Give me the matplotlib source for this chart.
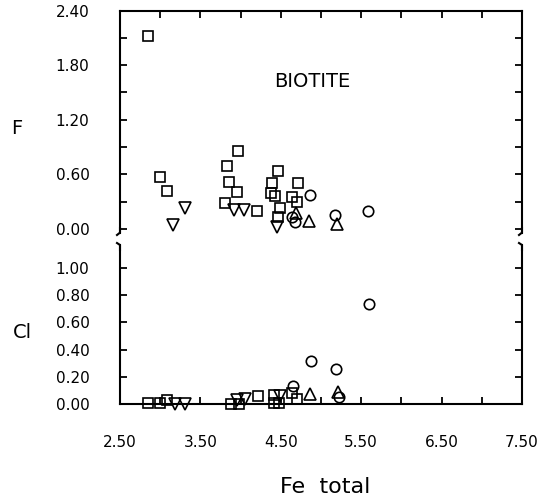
import matplotlib
matplotlib.use("Agg")
import matplotlib.pyplot as plt
from matplotlib.lines import Line2D
from matplotlib.ticker import MultipleLocator, FormatStrFormatter, NullFormatter

plt.rcParams['font.family'] = ['DejaVu Sans']

# F vs Fe total, one array pair per symbol
sq_fe_f = [2.85, 3.00, 3.09, 3.81, 3.83, 3.86, 3.95, 3.97, 4.21, 4.38, 4.43, 4.39,
           4.47, 4.49, 4.46, 4.64, 4.70, 4.71]
sq_f = [2.12, 0.575, 0.42, 0.28, 0.69, 0.52, 0.41, 0.86, 0.20, 0.39, 0.36, 0.51,
        0.64, 0.23, 0.135, 0.35, 0.30, 0.51]
tri_dn_fe_f = [3.155, 3.31, 3.92, 4.04, 4.45]
tri_dn_f = [0.045, 0.235, 0.21, 0.21, 0.025]
tri_up_fe_f = [4.69, 4.85, 5.20]
tri_up_f = [0.18, 0.09, 0.06]
circ_fe_f = [4.64, 4.68, 4.86, 5.17, 5.59]
circ_f = [0.13, 0.08, 0.37, 0.15, 0.20]

# Cl vs Fe total
sq_fe_cl = [2.85, 3.00, 3.08, 3.88, 3.98, 4.22, 4.41, 4.41, 4.48, 4.64, 4.70]
sq_cl = [0.01, 0.01, 0.03, 0.0, 0.0, 0.06, 0.066, 0.005, 0.005, 0.08, 0.04]
tri_dn_fe_cl = [3.18, 3.31, 3.95, 4.05, 4.49]
tri_dn_cl = [0.0, 0.0, 0.03, 0.035, 0.06]
tri_up_fe_cl = [4.86, 5.21]
tri_up_cl = [0.07, 0.09]
circ_fe_cl = [4.65, 4.88, 5.19, 5.22, 5.60]
circ_cl = [0.13, 0.32, 0.26, 0.05, 0.735]

W, H = 543, 500
fig = plt.figure(figsize=(W / 100, H / 100), dpi=100)

left = 120 / W
width = (522 - 120) / W
ax_f = fig.add_axes([left, 1 - 232.6 / H, width, 222 / H])
ax_cl = fig.add_axes([left, 1 - 404 / H, width, 159 / H])

mk = dict(linestyle='none', markerfacecolor='none', markeredgecolor='black',
          markeredgewidth=1.2, clip_on=False)


def draw_points(ax, sets):
    for xs, ys, m, s in sets:
        ax.plot(xs, ys, marker=m, markersize=s, **mk)


draw_points(ax_f, [(sq_fe_f, sq_f, 's', 6.5),
                   (tri_dn_fe_f, tri_dn_f, 'v', 8),
                   (tri_up_fe_f, tri_up_f, '^', 8),
                   (circ_fe_f, circ_f, 'o', 7.5)])
draw_points(ax_cl, [(sq_fe_cl, sq_cl, 's', 6.5),
                    (tri_dn_fe_cl, tri_dn_cl, 'v', 8),
                    (tri_up_fe_cl, tri_up_cl, '^', 8),
                    (circ_fe_cl, circ_cl, 'o', 7.5)])

for ax in (ax_f, ax_cl):
    ax.set_xlim(2.5, 7.5)
    for sp in ax.spines.values():
        sp.set_linewidth(1.5)
    ax.xaxis.set_major_locator(MultipleLocator(1.0, offset=0.5))
    ax.xaxis.set_minor_locator(MultipleLocator(0.5))
    ax.tick_params(which='both', direction='in', length=5, width=1.3,
                   labelsize=11, pad=22)

ax_f.spines['bottom'].set_visible(False)
ax_f.yaxis.set_major_locator(MultipleLocator(0.6))
ax_f.yaxis.set_minor_locator(MultipleLocator(0.3))
ax_f.yaxis.set_major_formatter(FormatStrFormatter('%.2f'))
ax_f.tick_params(which='both', bottom=False, labelbottom=False, top=True,
                 right=True)
ax_f.set_ylim(-0.04, 2.40)

ax_cl.spines['top'].set_visible(False)
ax_cl.yaxis.set_major_locator(MultipleLocator(0.2))
ax_cl.yaxis.set_major_formatter(FormatStrFormatter('%.2f'))
ax_cl.xaxis.set_major_formatter(FormatStrFormatter('%.2f'))
ax_cl.xaxis.set_minor_formatter(NullFormatter())
ax_cl.tick_params(which='both', top=False, right=True)
ax_cl.set_ylim(0, 1.17)

ax_f.text(0.478, 0.68, 'BIOTITE', transform=ax_f.transAxes, fontsize=14,
          ha='center', va='center')

fig.text(17 / W, 1 - 129 / H, 'F', fontsize=14, ha='center', va='center')
fig.text(22 / W, 1 - 333 / H, 'Cl', fontsize=14, ha='center', va='center')
fig.text(325 / W, 1 - 487 / H, 'Fe  total', fontsize=16, ha='center',
         va='center')

# little hooks where the y scale is broken
for x0 in (120, 522):
    for xs, ys in (([x0, x0, x0 - 3], [228, 232.6, 235]),
                   ([x0 - 3, x0, x0], [243, 245, 250])):
        fig.add_artist(Line2D([x / W for x in xs], [1 - y / H for y in ys],
                              transform=fig.transFigure, color='black',
                              linewidth=1.5))

fig.savefig('out.png', dpi=100)
